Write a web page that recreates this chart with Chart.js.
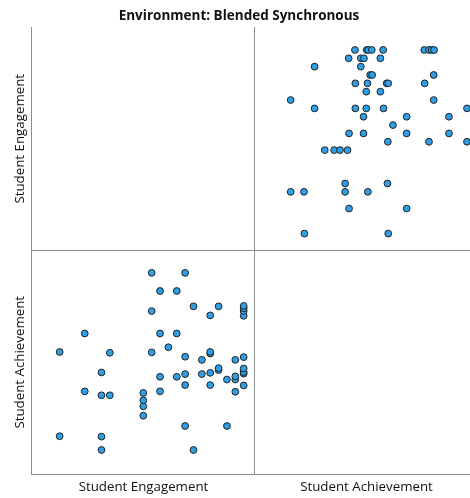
<!DOCTYPE html>
<html>
<head>
<meta charset="utf-8">
<script src="https://cdn.jsdelivr.net/npm/chart.js@4/dist/chart.umd.min.js"></script>
<style>
  html, body { margin: 0; padding: 0; background: #fff; overflow: hidden; }
  #wrap { width: 470px; height: 498px; overflow: hidden; position: relative; }
  #box { width: 490px; height: 498px; position: absolute; left: 0; top: 0; }
</style>
</head>
<body>
<div id="wrap"><div id="box"><canvas id="chart"></canvas></div></div>
<script>
// Environment: Blended Synchronous - scatterplot matrix (engagement vs achievement)

const chartTitle = 'Environment: Blended Synchronous';
const varNames = ['Student Engagement', 'Student Achievement'];

// one entry per student
const engagement = [
    2.8, 2.8,
    3.1, 3.1,
    3.3, 3.3, 3.3, 3.3,
    3.4, 3.4,
    3.8, 3.8, 3.8, 3.8,
    3.9, 3.9, 3.9,
    4.0, 4.0, 4.0, 4.0,
    4.1,
    4.2, 4.2, 4.2,
    4.3, 4.3, 4.3, 4.3, 4.3,
    4.4, 4.4,
    4.5, 4.5,
    4.6, 4.6, 4.6, 4.6, 4.6,
    4.7, 4.7, 4.7,
    4.8, 4.8,
    4.9, 4.9, 4.9, 4.9,
    5.0, 5.0, 5.0, 5.0, 5.0, 5.0, 5.0, 5.0, 5.0
];
const achievement = [
    58.5, 79.9,
    69.9, 84.6,
    55.0, 58.4, 68.9, 74.7,
    68.9, 79.7,
    63.7, 66.1, 67.6, 69.5,
    79.8, 90.3, 100.0,
    69.9, 73.6, 84.6, 95.4,
    81.1,
    73.6, 84.6, 95.4,
    61.1, 71.5, 74.3, 78.7, 100.0,
    55.0, 91.5,
    74.3, 77.9,
    71.5, 74.6, 79.5, 79.9, 89.2,
    75.3, 75.8, 91.5,
    61.1, 72.9,
    69.8, 72.9, 73.7, 77.9,
    71.4, 74.4, 74.8, 75.7, 78.6, 89.1, 90.3, 91.0, 91.6
];

// axis windows per panel
const engRangeCol = [2.469, 5.135];   // engagement as x (left column)
const engRangeRow = [2.597, 5.275];   // engagement as y (top row)
const achRangeCol = [45.89, 102.81];  // achievement as x (right column)
const achRangeRow = [48.89, 105.68];  // achievement as y (bottom row)

const lineColor = '#8c8c8c';
const dotFill = '#2e9fe6';
const dotEdge = '#222222';
const FONT = 'Open Sans';

const pointsTR = achievement.map((a, i) => ({ x: a, y: engagement[i] }));
const pointsBL = engagement.map((e, i) => ({ x: e, y: achievement[i] }));

function panelAxis(pos, range, title, titlePad, grid) {
    return {
        type: 'linear',
        position: pos,
        stack: pos,
        stackWeight: 1,
        min: range[0],
        max: range[1],
        ticks: { display: false },
        grid: grid || { display: false, drawTicks: false },
        border: { display: true, color: lineColor, width: 1 },
        title: {
            display: true,
            text: title,
            color: '#111',
            font: { family: FONT, size: 13.3 },
            padding: titlePad
        }
    };
}

const xPad = { top: 5, bottom: 3 };
const yPad = { top: 12, bottom: 4 };

const scales = {
    xL: panelAxis('bottom', engRangeCol, varNames[0], xPad),
    xR: panelAxis('bottom', achRangeCol, varNames[1], xPad,
        { display: true, drawTicks: false, color: lineColor, lineWidth: 1 }),
    yB: panelAxis('left', achRangeRow, varNames[1], yPad,
        { display: true, drawTicks: false, color: lineColor, lineWidth: 1 }),
    yT: panelAxis('left', engRangeRow, varNames[0], yPad)
};
// only one grid line each: the divider between the panels
scales.xR.afterBuildTicks = axis => { axis.ticks = [{ value: axis.min }]; };
scales.yB.afterBuildTicks = axis => { axis.ticks = [{ value: axis.max }]; };

new Chart(document.getElementById('chart'), {
    type: 'scatter',
    data: {
        datasets: [
            {
                label: 'Achievement vs Engagement',
                data: pointsTR,
                xAxisID: 'xR',
                yAxisID: 'yT',
                backgroundColor: dotFill,
                borderColor: dotEdge,
                borderWidth: 1,
                pointRadius: 3.4
            },
            {
                label: 'Engagement vs Achievement',
                data: pointsBL,
                xAxisID: 'xL',
                yAxisID: 'yB',
                backgroundColor: dotFill,
                borderColor: dotEdge,
                borderWidth: 1,
                pointRadius: 3.4
            }
        ]
    },
    options: {
        responsive: true,
        maintainAspectRatio: false,
        animation: false,
        events: [],
        layout: { padding: { left: 0, right: 12, top: 0, bottom: 0 } },
        scales,
        plugins: {
            legend: { display: false },
            tooltip: { enabled: false },
            title: {
                display: true,
                text: chartTitle,
                color: '#111',
                font: { family: FONT, size: 13.5, weight: 'bold' },
                padding: { top: 7.9, bottom: 2.9 }
            }
        }
    }
});
</script>
</body>
</html>
